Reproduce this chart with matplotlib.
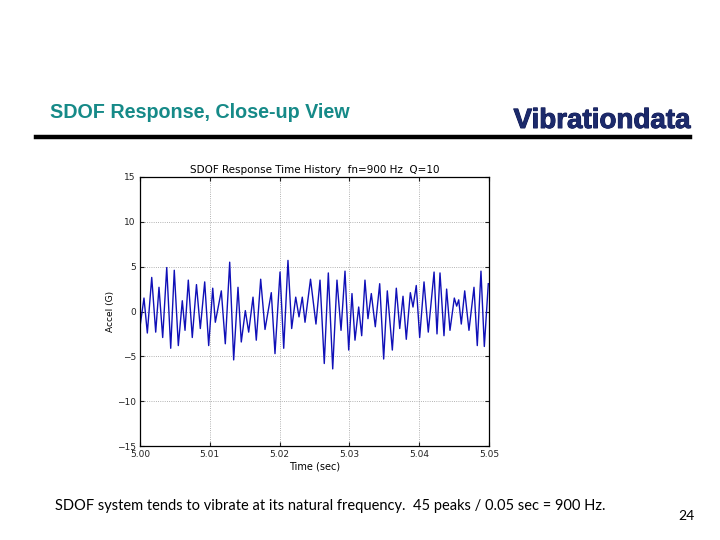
import matplotlib
matplotlib.use('Agg')
import matplotlib.pyplot as plt
import matplotlib.patheffects as pe

# extrema of the response (time offset in ms after 5.00 s, accel in G)
peak_ms = [0.00, 0.57, 1.05, 1.68, 2.25, 2.72, 3.25, 3.83, 4.40, 4.91,
           5.49, 6.06, 6.45, 6.92, 7.49, 8.09, 8.64, 9.27, 9.84, 10.42,
           10.79, 11.65, 12.22, 12.85, 13.42, 14.04, 14.51, 15.09, 15.57, 16.19,
           16.66, 17.29, 17.91, 18.81, 19.34, 20.06, 20.59, 21.20, 21.73, 22.31,
           22.78, 23.25, 23.64, 24.43, 25.21, 25.79, 26.40, 26.98, 27.61, 28.22,
           28.80, 29.37, 29.90, 30.37, 30.80, 31.33, 31.76, 32.23, 32.66, 33.14,
           33.71, 34.34, 34.91, 35.43, 36.15, 36.72, 37.21, 37.68, 38.15, 38.73,
           39.11, 39.58, 40.07, 40.69, 41.30, 42.13, 42.55, 42.98, 43.55, 43.93,
           44.41, 45.03, 45.37, 45.66, 46.03, 46.52, 47.13, 47.85, 48.32, 48.85,
           49.33, 49.90]
accel = [-1.7, 1.5, -2.4, 3.8, -2.3, 2.7, -2.9, 4.9, -4.1, 4.6,
         -3.8, 1.2, -2.1, 3.5, -2.9, 3.0, -1.9, 3.3, -3.8, 2.6,
         -1.2, 2.3, -3.6, 5.5, -5.4, 2.7, -3.4, 0.1, -2.3, 1.6,
         -3.2, 3.6, -2.0, 2.1, -4.7, 4.4, -4.1, 5.7, -1.9, 1.6,
         -0.6, 1.6, -1.2, 3.6, -1.4, 3.5, -5.8, 4.3, -6.4, 3.5,
         -2.1, 4.5, -4.3, 2.0, -3.2, 0.5, -2.7, 3.5, -0.8, 2.0,
         -1.7, 3.1, -5.3, 2.3, -4.3, 2.6, -1.9, 1.7, -3.1, 2.1,
         0.5, 2.9, -2.9, 3.3, -2.3, 4.4, -2.5, 4.3, -2.7, 2.5,
         -2.1, 1.5, 0.6, 1.3, -1.4, 2.3, -2.1, 2.7, -3.8, 4.5,
         -3.9, 3.1]
time_sec = [5.0 + ms / 1000.0 for ms in peak_ms]

x_ticks = [5.00, 5.01, 5.02, 5.03, 5.04, 5.05]
y_ticks = [-15, -10, -5, 0, 5, 10, 15]

fig = plt.figure(figsize=(7.2, 5.4), dpi=100)

# slide header
fig.text(50 / 720, 1 - 112 / 540, 'SDOF Response, Close-up View', color='#168a88',
         fontsize=14.2, fontweight='bold', family='Liberation Sans', va='center', ha='left')
fig.text(690 / 720, 1 - 121 / 540, 'Vibrationdata', color='#1c2a6b', fontsize=20,
         fontweight='bold', family='Liberation Sans', va='center', ha='right',
         path_effects=[pe.withStroke(linewidth=0.7, foreground='#0c1550')])
fig.add_artist(plt.Line2D([36 / 720, 690 / 720], [1 - 137 / 540, 1 - 137 / 540],
                          color='black', linewidth=3.2))

# embedded plot
ax = fig.add_axes([140 / 720, 94 / 540, 349 / 720, 269 / 540])
ax.plot(time_sec, accel, color='#1010b8', linewidth=1.0)
ax.set_xlim(5.00, 5.05)
ax.set_ylim(-15, 15)
ax.set_xticks(x_ticks)
ax.set_xticklabels(['%.2f' % v for v in x_ticks])
ax.set_yticks(y_ticks)
ax.set_yticklabels([str(v).replace('-', '\u2212') for v in y_ticks])
ax.tick_params(direction='in', length=3, labelsize=6.5, colors='#222222', pad=3,
               top=True, right=True)
ax.grid(True, linestyle=':', color='#9a9a9a', linewidth=0.6)
for sp in ax.spines.values():
    sp.set_linewidth(0.9)
ax.set_title('SDOF Response Time History  fn=900 Hz  Q=10', fontsize=7.5, pad=3)
ax.set_xlabel('Time (sec)', fontsize=7, labelpad=2)
ax.set_ylabel('Accel (G)', fontsize=6.5, labelpad=1)

# caption and page number
fig.text(55 / 720, 1 - 506 / 540,
         'SDOF system tends to vibrate at its natural frequency.  45 peaks / 0.05 sec = 900 Hz.',
         fontsize=10.5, family='Lato', va='center', ha='left')
fig.text(686 / 720, 1 - 516 / 540, '24', fontsize=10, family='Lato', va='center', ha='center')

fig.savefig('out.png', dpi=100)
